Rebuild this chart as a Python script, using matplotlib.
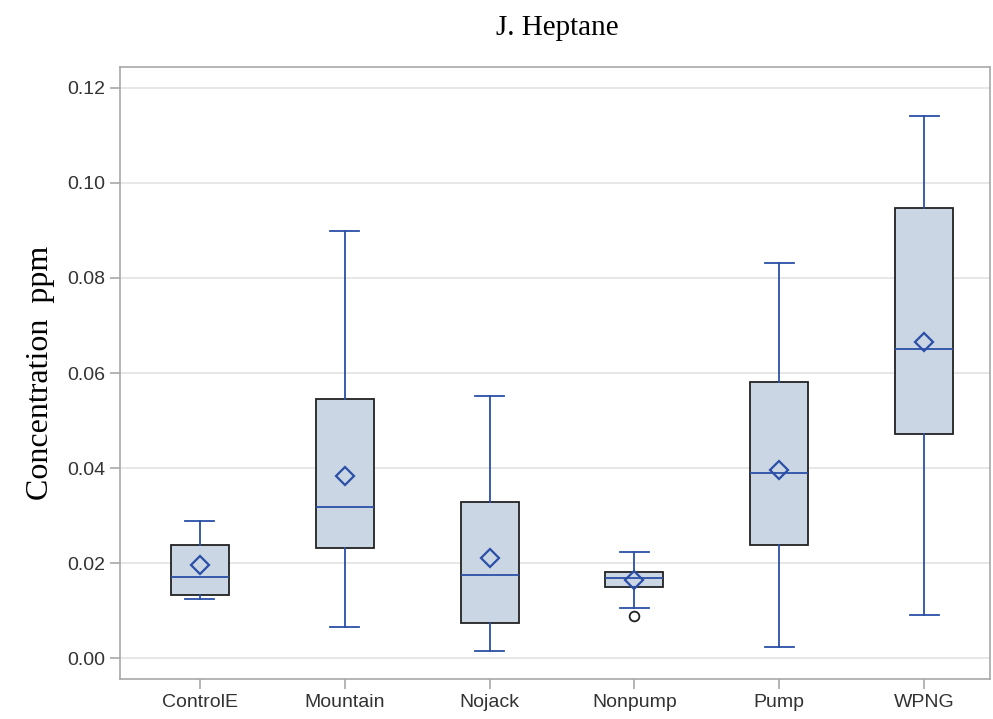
import matplotlib
matplotlib.use("Agg")
import matplotlib.pyplot as plt

categories = ["ControlE", "Mountain", "Nojack", "Nonpump", "Pump", "WPNG"]
whisker_low = [0.0124, 0.0065, 0.0015, 0.0105, 0.0023, 0.0090]
q1 = [0.0133, 0.0232, 0.0074, 0.0149, 0.0238, 0.0472]
median = [0.0171, 0.0318, 0.0175, 0.0168, 0.0389, 0.0651]
q3 = [0.0238, 0.0545, 0.0328, 0.0181, 0.0581, 0.0947]
whisker_high = [0.0288, 0.0899, 0.0552, 0.0223, 0.0832, 0.1141]
means = [0.0196, 0.0383, 0.0211, 0.0164, 0.0396, 0.0665]
outliers = [[], [], [], [0.0088], [], []]

stats = []
for i, name in enumerate(categories):
    stats.append(dict(label=name, whislo=whisker_low[i], q1=q1[i], med=median[i],
                      q3=q3[i], whishi=whisker_high[i], mean=means[i],
                      fliers=outliers[i]))

blue = "#2b4fa6"
fill = "#cbd6e4"
fig = plt.figure(figsize=(9.93, 7.19), dpi=100)
ax = fig.add_axes([120 / 993, 1 - 679 / 719, 870 / 993, 612 / 719])

positions = list(range(len(categories)))
ax.bxp(stats, positions=positions, widths=0.4, patch_artist=True,
       showmeans=True, showfliers=True,
       boxprops=dict(facecolor=fill, edgecolor="#222222", linewidth=1.3),
       medianprops=dict(color=blue, linewidth=1.3),
       whiskerprops=dict(color=blue, linewidth=1.3),
       capprops=dict(color=blue, linewidth=1.3),
       capwidths=0.2,
       meanprops=dict(marker="D", markersize=9, markerfacecolor="none",
                      markeredgecolor=blue, markeredgewidth=1.6),
       flierprops=dict(marker="o", markersize=7, markerfacecolor="none",
                       markeredgecolor="#222222", markeredgewidth=1.3),
       zorder=3)

ax.set_xlim(-0.552, 5.455)
ax.set_ylim(-0.00442, 0.12442)
ax.set_yticks([0.0, 0.02, 0.04, 0.06, 0.08, 0.10, 0.12])
ax.set_yticklabels(["0.00", "0.02", "0.04", "0.06", "0.08", "0.10", "0.12"])
ax.set_xticks(positions)
ax.set_xticklabels(categories)
ax.yaxis.grid(True, color="#e3e3e3", linewidth=1.2, zorder=0)
ax.set_axisbelow(True)

for side in ["left", "bottom", "top", "right"]:
    ax.spines[side].set_color("#a8a8a8")
    ax.spines[side].set_linewidth(1.2)
ax.tick_params(axis="both", direction="out", length=7, width=1.2, color="#a8a8a8",
               labelcolor="#333333", labelsize=14)
for lab in ax.get_xticklabels() + ax.get_yticklabels():
    lab.set_family("Liberation Sans")

ax.set_ylabel("Concentration  ppm", family="Liberation Serif", fontsize=23,
              color="black", labelpad=9)
fig.text(557 / 993, 1 - 28 / 719, "J. Heptane", family="Liberation Serif",
         fontsize=21, ha="center", va="center")

fig.savefig("out.png", dpi=100)
